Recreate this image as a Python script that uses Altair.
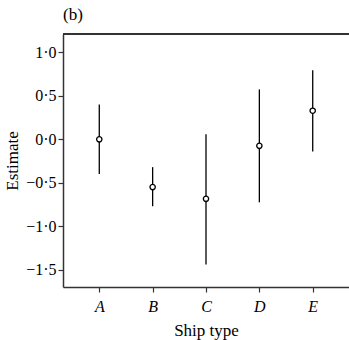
import altair as alt
import pandas as pd

ship = ["A", "B", "C", "D", "E"]
estimate = [0.0, -0.55, -0.685, -0.075, 0.33]
lower = [-0.40, -0.77, -1.44, -0.725, -0.14]
upper = [0.40, -0.32, 0.06, 0.575, 0.795]
yticks = [-1.5, -1.0, -0.5, 0.0, 0.5, 1.0]

df = pd.DataFrame({"ship": ship, "est": estimate, "lo": lower, "hi": upper})

W, H = 286, 253
FONT = "Liberation Serif"
AX = "#333333"

xenc = alt.X("ship:O", title="Ship type",
             scale=alt.Scale(type="point", padding=0.68),
             axis=alt.Axis(labelAngle=0, labelFontStyle="italic", labelFontSize=16,
                           labelFont=FONT, titleFont=FONT, titleFontSize=17,
                           titleFontWeight="normal", titleColor="black", labelColor="black",
                           tickSize=5, labelPadding=6, titlePadding=8,
                           domainColor=AX, tickColor=AX, domainWidth=1.5, tickWidth=1.2))
yscale = alt.Scale(domain=[-1.70, 1.213], nice=False, zero=False)
yaxis = alt.Axis(values=yticks, grid=False, tickSize=5, labelFontSize=16, labelFont=FONT,
                 labelExpr="replace(replace(format(datum.value, '.1f'), '-', '\u2212'), '.', '\u00b7')",
                 labelColor="black", titleColor="black", titleFont=FONT, titleFontSize=17,
                 titleFontWeight="normal", titlePadding=4, labelPadding=2,
                 domainColor=AX, tickColor=AX, domainWidth=1.5, tickWidth=1.2)

bars = alt.Chart(df).mark_rule(color="black", strokeWidth=1.3).encode(
    x=xenc,
    y=alt.Y("lo:Q", title="Estimate", scale=yscale, axis=yaxis),
    y2="hi:Q",
)
pts = alt.Chart(df).mark_point(shape="circle", filled=True, fill="white", stroke="black",
                               strokeWidth=1.3, size=28, opacity=1).encode(
    x=alt.X("ship:O", scale=alt.Scale(type="point", padding=0.68)),
    y=alt.Y("est:Q", scale=yscale),
)
top = alt.Chart(df).mark_rule(color=AX, strokeWidth=1.5).encode(
    x=alt.value(0), x2=alt.value(W + 2), y=alt.value(0)
)

chart = alt.layer(bars, pts, top).properties(
    width=W, height=H,
    title=alt.TitleParams("(b)", anchor="start", frame="group", font=FONT, fontSize=17,
                          fontWeight="normal", color="black", offset=9),
    autosize=alt.AutoSizeParams(type="none"),
    padding={"left": 63, "top": 34, "right": 0, "bottom": 53},
).configure_view(stroke=None)

chart.save("out.html", embed_options={"renderer": "svg", "actions": False})
